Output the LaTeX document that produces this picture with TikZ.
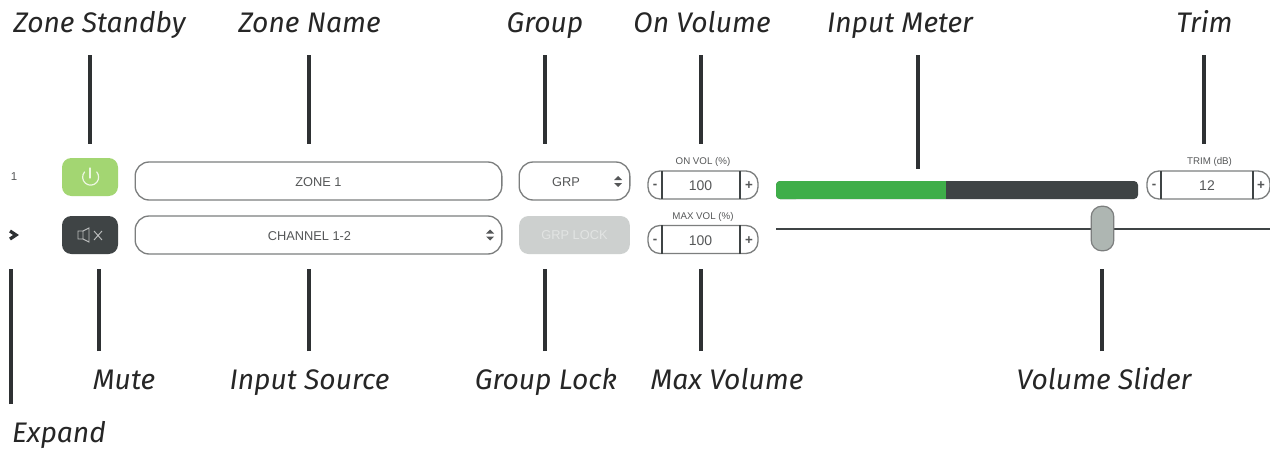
\documentclass[tikz,border=0pt]{standalone}
\usepackage{fontspec}
\setmainfont{Liberation Sans}
\newfontfamily\labelfont{Fira Sans}
\definecolor{lead}{HTML}{2E3133}
\definecolor{rim}{HTML}{7C7E7E}
\definecolor{inktext}{HTML}{555758}
\definecolor{lime}{HTML}{A3D672}
\definecolor{slate}{HTML}{3F4445}
\definecolor{meterg}{HTML}{3FAE49}
\definecolor{lockgrey}{HTML}{CDD0CF}
\definecolor{locktext}{HTML}{E2E4E3}
\definecolor{thumb}{HTML}{AEB6B2}
\tikzset{
  x=0.75pt,y=-0.75pt,
  every node/.style={inner sep=0pt,outer sep=0pt},
  callout/.style={anchor=base,font=\labelfont\itshape\fontsize{21.2}{25}\selectfont,text=black!85},
  leadline/.style={draw=lead,line width=2.35pt},
  pill/.style={draw=rim,line width=1pt,rounded corners=10.5pt,fill=white,minimum height=28.5pt},
  solidbtn/.style={rounded corners=7pt,minimum width=42pt,minimum height=28.5pt},
  stepper/.style={draw=rim,line width=1pt,rounded corners=9pt,fill=white,minimum height=21pt},
  uitext/.style={font=\fontsize{9.6}{11}\selectfont,text=inktext},
  numtext/.style={font=\fontsize{10.5}{12}\selectfont,text=inktext},
  caption/.style={font=\fontsize{7.3}{8}\selectfont,text=inktext},
  signs/.style={font=\bfseries\fontsize{10}{11}\selectfont,text=inktext},
  divider/.style={draw=slate,line width=0.9pt},
  spin/.style={fill=inktext,draw=none},
}
\begin{document}
\begin{tikzpicture}
\useasboundingbox (0,0) rectangle (1270,450);
\fill[white] (0,0) rectangle (1270,450);
% controls
\node[font=\fontsize{8.6}{10}\selectfont,text=inktext] (rownum) at (14,177) {1};
\node[solidbtn,fill=lime] (standby) at (90,177) {};
\node[solidbtn,fill=slate] (mute) at (90,235) {};
\node[pill,minimum width=275pt] (zone) at (318.5,181) {};
\node[uitext] (zonetxt) at (318.5,182) {ZONE 1};
\node[pill,minimum width=275pt] (source) at (318.5,235) {};
\node[uitext] (sourcetxt) at (309.5,236) {CHANNEL 1-2};
\node[pill,minimum width=83pt] (group) at (574.5,181) {};
\node[uitext] (grouptxt) at (566,182) {GRP};
\node[solidbtn,fill=lockgrey,minimum width=83pt,text=locktext,font=\fontsize{9.6}{11}\selectfont] (lock) at (574.5,235) {GRP LOCK};
\node[caption] (oncap) at (703,162) {ON VOL (\%)};
\node[stepper,minimum width=82.5pt] (onvol) at (703,185) {};
\node[numtext] (onnum) at (700.5,186) {100};
\node[caption] (maxcap) at (703,217) {MAX VOL (\%)};
\node[stepper,minimum width=82.5pt] (maxvol) at (703,239.5) {};
\node[numtext] (maxnum) at (700.5,240.5) {100};
\node[caption] (trimcap) at (1209.5,162) {TRIM (dB)};
\node[stepper,minimum width=92.25pt] (trim) at (1208.5,185) {};
\node[numtext] (trimnum) at (1207,186) {12};
% meter
\node[fill=slate,rounded corners=3pt,minimum width=271.5pt,minimum height=13.5pt] (meter) at (957,190) {};
\fill[meterg,rounded corners=3pt] (776,181) rectangle (800,199);
\fill[meterg] (785,181) rectangle (946,199);
% slider
\coordinate (slideL) at (776,229);
\coordinate (slideR) at (1270,229);
\draw[draw=slate,line width=1.1pt] (slideL) -- (slideR);
\node[draw=rim,line width=0.9pt,fill=thumb,rounded corners=8pt,minimum width=17pt,minimum height=33.5pt] (knob) at (1102.5,228.5) {};
% stepper dividers and signs
\draw[divider] (662,171) -- (662,199) (740,171) -- (740,199);
\draw[divider] (662,225) -- (662,254) (740,225) -- (740,254);
\draw[divider] (1161,171) -- (1161,199) (1253,171) -- (1253,199);
\node[signs] (onm) at (655,186) {-};
\node[signs] (onp) at (749,186) {+};
\node[signs] (maxm) at (655,241) {-};
\node[signs] (maxp) at (749,241) {+};
\node[signs] (trm) at (1154,186) {-};
\node[signs] (trp) at (1261,186) {+};
% spinners
\fill[spin] (614,180) -- (622,180) -- (618,176) -- cycle (614,183) -- (622,183) -- (618,187) -- cycle;
\fill[spin] (486,233.5) -- (494,233.5) -- (490,229.5) -- cycle (486,236.5) -- (494,236.5) -- (490,240.5) -- cycle;
% chevron
\draw[draw=lead,line width=2.4pt] (10,231) -- (16,235) -- (10,239);
% power icon
\draw[draw=white!80!lime,line width=0.9pt,line cap=round] (84.5,172) arc[start angle=220,end angle=-40,radius=8];
\draw[draw=white!80!lime,line width=0.9pt,line cap=round] (90,168) -- (90,178);
% mute icon
\draw[draw=white!65!slate,line width=0.7pt] (78,231) -- (83,231) -- (89,228) -- (89,242) -- (83,239) -- (78,239) -- cycle (83,231) -- (83,239);
\draw[draw=white!65!slate,line width=0.7pt] (94,231) -- (102,240) (102,231) -- (94,240);
% callouts
\node[callout] (lZS) at (99.5,32) {Zone Standby};
\node[callout] (lZN) at (309.5,32) {Zone Name};
\node[callout] (lGR) at (545,32) {Group};
\node[callout] (lOV) at (702,32) {On Volume};
\node[callout] (lIM) at (900,32) {Input Meter};
\node[callout] (lTR) at (1204.5,32) {Trim};
\node[callout] (lMU) at (124,389) {Mute};
\node[callout] (lIS) at (309.5,389) {Input Source};
\node[callout] (lGL) at (546,389) {Group Lock};
\node[callout] (lMV) at (727,389) {Max Volume};
\node[callout] (lVS) at (1104,389) {Volume Slider};
\node[callout] (lEX) at (59,442) {Expand};
% leader ends
\coordinate (e1) at (90,55);
\coordinate (e2) at (309,55);
\coordinate (e3) at (545,55);
\coordinate (e4) at (701,55);
\coordinate (e5) at (918,55);
\coordinate (e6) at (1204,55);
\coordinate (e7) at (99,351);
\coordinate (e8) at (309,351);
\coordinate (e9) at (545,351);
\coordinate (e10) at (701,351);
\coordinate (e11) at (1102,351);
\coordinate (e12) at (11,404);
\draw[leadline,shorten >=10.5pt] (e1) -- (e1 |- standby.north);
\draw[leadline,shorten >=13.5pt] (e2) -- (e2 |- zone.north);
\draw[leadline,shorten >=13.5pt] (e3) -- (e3 |- group.north);
\draw[leadline,shorten >=10pt] (e4) -- (e4 |- oncap.north);
\draw[leadline,shorten >=9pt] (e5) -- (e5 |- meter.north);
\draw[leadline,shorten >=20.25pt] (e6) -- (e6 |- trim.north);
\draw[leadline,shorten >=11.5pt] (e7) -- (e7 |- mute.south);
\draw[leadline,shorten >=11.5pt] (e8) -- (e8 |- source.south);
\draw[leadline,shorten >=11.5pt] (e9) -- (e9 |- lock.south);
\draw[leadline,shorten >=11.5pt] (e10) -- (e10 |- maxvol.south);
\draw[leadline,shorten >=13.5pt] (e11) -- (e11 |- knob.south);
\draw[leadline,shorten >=11.5pt] (e12) -- (e12 |- mute.south);
\end{tikzpicture}
\end{document}
